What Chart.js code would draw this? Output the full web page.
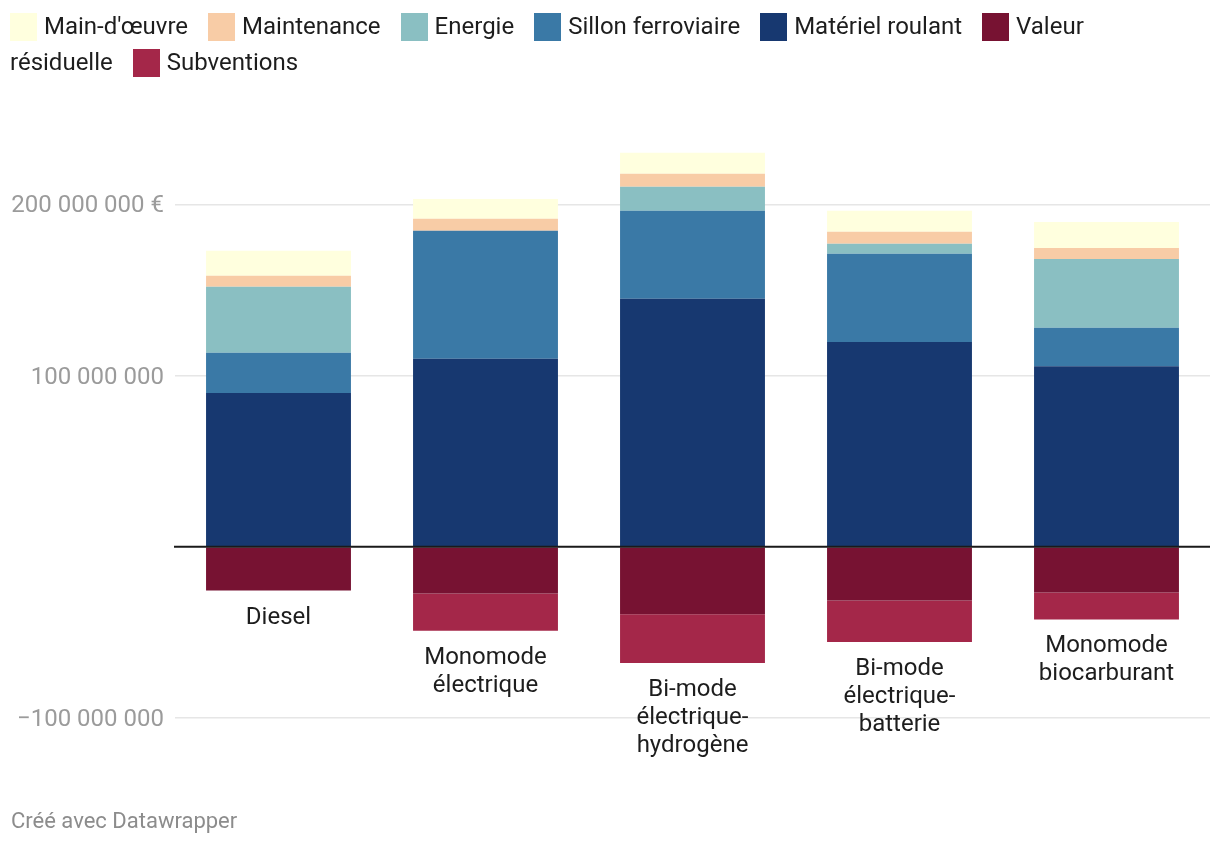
<!DOCTYPE html>
<html>
<head>
<meta charset="utf-8">
<script src="https://cdn.jsdelivr.net/npm/chart.js@4.4.1/dist/chart.umd.min.js"></script>
<style>
body { margin: 0; background: #fff; font-family: Roboto, sans-serif; }
#wrap { position: relative; width: 1220px; height: 844px; }
#legend { position: absolute; left: 10px; top: 8px; font-size: 24px; line-height: 36px; color: #1d1d1d; white-space: nowrap; }
.item { margin-right: 20px; }
.sw { display: inline-block; width: 27px; height: 28px; margin-right: 7px; vertical-align: -7px; }
#footer { position: absolute; left: 11px; top: 808px; font-size: 22px; line-height: 26px; color: #8c8c8c; }
</style>
</head>
<body>
<div id="wrap">
  <canvas id="chart"></canvas>
  <div id="legend"></div>
  <div id="footer">Créé avec Datawrapper</div>
</div>
<script>
// values in millions of euros
const M = 1e6;
const categories = [
  ['Diesel'],
  ['Monomode', 'électrique'],
  ['Bi-mode', 'électrique-', 'hydrogène'],
  ['Bi-mode', 'électrique-', 'batterie'],
  ['Monomode', 'biocarburant']
];
const materiel    = [89.9, 109.8, 144.9, 119.7, 105.4];
const sillon      = [23.4, 74.8, 51.4, 51.5, 22.5];
const energie     = [38.6, 0, 14.1, 5.8, 40.2];
const maintenance = [6.4, 7.0, 7.6, 7.0, 6.4];
const mainOeuvre  = [14.6, 11.6, 12.2, 12.3, 15.3];
const residuelle  = [-25.6, -27.3, -39.4, -31.4, -26.7];
const subventions = [0, -21.8, -28.6, -24.3, -15.8];
const yTicks = [-100, 0, 100, 200];

const series = [
  { label: 'Matériel roulant', data: materiel, color: '#173870' },
  { label: 'Sillon ferroviaire', data: sillon, color: '#3a79a6' },
  { label: 'Energie', data: energie, color: '#8abfc2' },
  { label: 'Maintenance', data: maintenance, color: '#f8cca6' },
  { label: "Main-d'œuvre", data: mainOeuvre, color: '#ffffde' },
  { label: 'Valeur résiduelle', data: residuelle, color: '#771232' },
  { label: 'Subventions', data: subventions, color: '#a42749' }
];

// html legend, same order as the original
const legendOrder = ["Main-d'œuvre", 'Maintenance', 'Energie', 'Sillon ferroviaire', 'Matériel roulant', 'Valeur résiduelle', 'Subventions'];
document.getElementById('legend').innerHTML = legendOrder.map(name => {
  const s = series.find(d => d.label === name);
  const txt = name === 'Valeur résiduelle' ? 'Valeur<br>résiduelle' : name;
  return '<span class="item"><span class="sw" style="background:' + s.color + '"></span>' + txt + '</span>';
}).join('');

function fmt(v) {
  const s = Math.abs(v).toString().replace(/\B(?=(\d{3})+(?!\d))/g, ' ');
  return (v < 0 ? '\u2212' : '') + s;
}

const zeroLine = {
  id: 'zeroLine',
  afterDatasetsDraw(chart) {
    const { ctx, chartArea, scales: { y } } = chart;
    const y0 = y.getPixelForValue(0);
    ctx.save();
    ctx.strokeStyle = '#1a1a1a';
    ctx.lineWidth = 2;
    ctx.beginPath();
    ctx.moveTo(chartArea.left - 1, y0);
    ctx.lineTo(chartArea.right, y0);
    ctx.stroke();
    ctx.restore();
  }
};

const catLabels = {
  id: 'catLabels',
  afterDatasetsDraw(chart) {
    const { ctx, scales: { x, y } } = chart;
    ctx.save();
    ctx.font = '24px Roboto';
    ctx.fillStyle = '#1d1d1d';
    ctx.textAlign = 'center';
    ctx.textBaseline = 'middle';
    categories.forEach((lines, i) => {
      let yy = y.getPixelForValue((residuelle[i] + subventions[i]) * M) + 27;
      lines.forEach(line => {
        ctx.fillText(line, x.getPixelForValue(i), yy);
        yy += 28;
      });
    });
    ctx.restore();
  }
};

new Chart(document.getElementById('chart'), {
  type: 'bar',
  data: {
    labels: categories.map(c => c.join(' ')),
    datasets: series.map(s => ({
      label: s.label,
      data: s.data.map(v => v * M),
      backgroundColor: s.color,
      borderWidth: 0,
      barPercentage: 0.7,
      categoryPercentage: 1
    }))
  },
  options: {
    responsive: true,
    maintainAspectRatio: false,
    animation: false,
    layout: { padding: { top: 136, bottom: 109, left: 0, right: 10 } },
    plugins: { legend: { display: false }, tooltip: { enabled: false } },
    scales: {
      x: { stacked: true, display: false },
      y: {
        stacked: true,
        min: -110 * M,
        max: 240 * M,
        afterBuildTicks: scale => { scale.ticks = yTicks.map(v => ({ value: v * M })); },
        afterFit: scale => { scale.width = 175; },
        border: { display: false },
        grid: {
          drawTicks: false,
          lineWidth: 1.5,
          color: c => c.tick && c.tick.value === 0 ? 'rgba(0,0,0,0)' : '#e6e6e6'
        },
        ticks: {
          padding: 11,
          labelOffset: 2,
          color: '#9b9b9b',
          font: { family: 'Roboto', size: 24 },
          callback: v => v === 0 ? '' : fmt(v) + (v === 200 * M ? ' €' : '')
        }
      }
    }
  },
  plugins: [zeroLine, catLabels]
});
</script>
</body>
</html>
